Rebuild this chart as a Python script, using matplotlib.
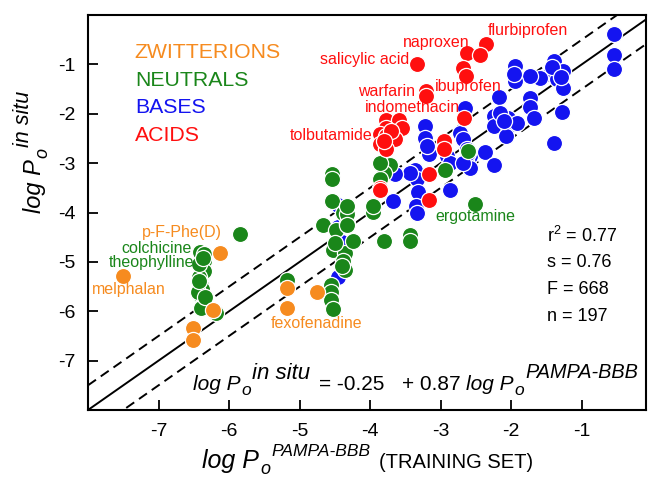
import matplotlib
matplotlib.use("Agg")
import matplotlib.pyplot as plt
import numpy as np

plt.rcParams['font.family'] = ['Liberation Sans', 'DejaVu Sans']
plt.rcParams['mathtext.fontset'] = 'custom'
plt.rcParams['mathtext.rm'] = 'Liberation Sans'
plt.rcParams['mathtext.it'] = 'Liberation Sans:italic'
plt.rcParams['axes.unicode_minus'] = False

W, H = 649, 484

# ---------------- data ----------------
zwit_x = [-6.13, -7.51, -5.18, -4.75, -5.18, -6.23, -6.51, -6.51]
zwit_y = [-4.82, -5.28, -5.53, -5.62, -5.94, -5.98, -6.34, -6.58]

neut_x = [-6.41, -6.36, -6.36, -6.40, -6.35, -6.42, -6.40, -6.41, -6.36, -6.40, -6.18,
          -6.42, -6.38, -6.44, -6.37, -6.34, -6.43,
          -5.84, -5.18,
          -4.54, -4.38, -4.67, -4.48, -4.33, -4.52, -4.36, -4.38, -4.36, -4.55, -4.55,
          -4.55, -4.53, -4.54, -4.54, -4.33, -4.33, -4.50, -4.40,
          -3.96, -3.81, -3.43, -3.43, -4.24, -2.51, -3.96, -4.33, -2.61, -2.94, -3.72,
          -3.81, -3.86, -3.86]
neut_y = [-4.79, -4.85, -4.99, -5.13, -5.19, -5.31, -5.46, -5.67, -5.80, -5.94, -6.04,
          -5.05, -5.55, -5.60, -4.92, -5.72, -5.38,
          -4.43, -5.36,
          -3.77, -4.01, -4.25, -4.35, -4.21, -4.75, -4.82, -4.99, -5.16, -5.47, -5.60,
          -5.77, -5.96, -3.23, -3.33, -4.04, -4.25, -4.62, -5.08,
          -3.98, -4.58, -4.45, -4.58, -4.58, -3.82, -3.87, -3.87, -2.76, -3.13, -3.03,
          -3.20, -3.33, -2.99]

base_x = [-0.55, -0.55, -0.55, -1.40, -1.26, -1.45, -1.35, -1.26, -1.59, -1.74, -1.94,
          -1.94, -2.17, -1.74, -1.74, -1.68, -1.28, -1.40, -2.24, -2.24, -2.04, -2.04,
          -1.92, -2.16, -2.07, -2.65, -3.22, -3.22, -3.17, -2.72, -2.68, -2.63, -2.58,
          -2.64, -2.58, -2.37, -2.24, -2.91, -2.87, -2.87, -3.36, -3.34, -3.32, -3.43,
          -3.65, -3.67, -3.35, -3.34, -4.45, -4.45, -4.40, -4.38, -4.45,
          -1.42, -1.30, -1.96, -2.10, -2.62, -3.20, -2.68]
base_y = [-0.39, -0.80, -1.10, -0.93, -1.14, -1.20, -1.30, -1.47, -1.27, -1.24, -1.03,
          -1.34, -1.66, -1.68, -1.86, -2.08, -1.97, -2.60, -2.05, -2.24, -2.08, -2.25,
          -2.18, -1.98, -2.45, -1.88, -2.24, -2.49, -2.81, -2.39, -2.52, -2.72, -2.86,
          -2.93, -3.10, -2.78, -3.03, -2.86, -3.00, -3.54, -3.13, -3.33, -3.59, -3.20,
          -3.23, -3.77, -3.87, -4.01, -3.85, -4.30, -4.60, -5.05, -5.30,
          -1.05, -1.25, -1.20, -2.15, -2.80, -2.65, -3.00]

acid_x = [-2.36, -2.63, -2.45, -2.68, -2.64, -3.34, -3.21, -3.21, -2.67, -3.77, -3.59,
          -3.55, -3.77, -3.86, -3.77, -3.65, -3.86, -3.77, -2.96, -2.96, -3.17, -3.86,
          -3.86, -3.17, -3.70, -3.80]
acid_y = [-0.58, -0.76, -0.82, -1.07, -1.24, -1.00, -1.54, -1.64, -2.08, -2.12, -2.13,
          -2.28, -2.28, -2.42, -2.45, -2.52, -2.62, -2.72, -2.55, -2.72, -3.23, -3.50,
          -3.55, -3.74, -2.35, -2.55]

# reference lines (identity and +/- band)
line_slope = 1.0
line_intercept = 0.0
band = 0.5

labels_text = ['flurbiprofen', 'naproxen', 'salicylic acid', 'warfarin', 'ibuprofen',
               'indomethacin', 'tolbutamide', 'p-F-Phe(D)', 'colchicine', 'theophylline',
               'melphalan', 'fexofenadine', 'ergotamine']
labels_x = [-2.34, -3.54, -4.71, -4.17, -3.08, -4.07, -5.14, -7.23, -7.53, -7.70,
            -7.94, -5.41, -3.08]
labels_y = [-0.31, -0.55, -0.90, -1.54, -1.45, -1.88, -2.44, -4.41, -4.72, -5.01,
            -5.56, -6.25, -4.08]
labels_cls = ['A', 'A', 'A', 'A', 'A', 'A', 'A', 'Z', 'N', 'N', 'Z', 'Z', 'N']

stats_text = ['r$^2$ = 0.77', 's = 0.76', 'F = 668', 'n = 197']
stats_y = [-4.48, -5.02, -5.56, -6.11]

xticks = [-7, -6, -5, -4, -3, -2, -1]
yticks = [-7, -6, -5, -4, -3, -2, -1]

colors = {'Z': '#F68B1F', 'N': '#1A861A', 'B': '#1414F0', 'A': '#FF0F0F'}

# ---------------- figure ----------------
fig = plt.figure(figsize=(W/100, H/100), dpi=100)
ax = fig.add_axes([88/W, 1-410/H, (646-88)/W, (410-15)/H])
ax.set_xlim(-8, -0.09)
ax.set_ylim(-8, 0)

xx = np.array([-8.0, 0.0])
ax.plot(xx, line_intercept + line_slope*xx, color='black', lw=1.4, zorder=1)
ax.plot(xx, line_intercept + band + line_slope*xx, color='black', lw=1.4,
        ls=(0, (5, 3)), zorder=1)
ax.plot(xx, line_intercept - band + line_slope*xx, color='black', lw=1.4,
        ls=(0, (5, 3)), zorder=1)

kw = dict(s=135, edgecolors='white', linewidths=0.9)
ax.scatter(base_x, base_y, c=colors['B'], zorder=3, **kw)
ax.scatter(neut_x, neut_y, c=colors['N'], zorder=4, **kw)
ax.scatter(acid_x, acid_y, c=colors['A'], zorder=5, **kw)
ax.scatter(zwit_x, zwit_y, c=colors['Z'], zorder=6, **kw)

for t, x, y, c in zip(labels_text, labels_x, labels_y, labels_cls):
    ax.text(x, y, t, color=colors[c], fontsize=11.5, ha='left', va='center', zorder=7)

for t, y in zip(stats_text, stats_y):
    ax.text(-1.50, y, t, fontsize=13, ha='left', va='center', zorder=7)

legend_words = ['ZWITTERIONS', 'NEUTRALS', 'BASES', 'ACIDS']
legend_cls = ['Z', 'N', 'B', 'A']
legend_yf = [0.905, 0.835, 0.766, 0.696]
for w, c, yf in zip(legend_words, legend_cls, legend_yf):
    ax.text(0.084, yf, w, color=colors[c], fontsize=15.3, transform=ax.transAxes,
            ha='left', va='center')

ax.set_xticks(xticks)
ax.set_yticks(yticks)
ax.set_xticklabels([str(v) for v in xticks])
ax.set_yticklabels([str(v) for v in yticks])
ax.tick_params(direction='in', length=7, width=1.3, labelsize=14, pad=9)
for sp in ax.spines.values():
    sp.set_linewidth(1.5)

renderer = fig.canvas.get_renderer()


def rich(x_px, y_px, pieces, rotation=0, zorder=8):
    """pieces: (text, size, style, raise_px, gap_px) drawn along the baseline."""
    texts = []
    pos = 0.0
    for txt, size, style, dy, gap in pieces:
        pos += gap
        if rotation == 0:
            X, Y = x_px + pos, y_px - dy
        else:
            X, Y = x_px - dy, y_px - pos
        t = fig.text(X/W, 1 - Y/H, txt, fontsize=size, style=style,
                     rotation=rotation, rotation_mode='anchor',
                     ha='left', va='baseline', zorder=zorder)
        bb = t.get_window_extent(renderer)
        pos += bb.width if rotation == 0 else bb.height
        texts.append(t)
    return texts, pos


def shift(texts, dx_px, dy_px):
    for t in texts:
        x, y = t.get_position()
        t.set_position((x + dx_px/W, y - dy_px/H))


# equation inside the plot
rich(193, 390, [('log P', 15, 'italic', 0, 0), ('o', 12.5, 'italic', -5, 1),
                ('in situ', 16, 'italic', 11, 1), ('= -0.25', 15, 'normal', 0, 9),
                ('+ 0.87', 15, 'normal', 0, 17), ('log P', 15, 'italic', 0, 6),
                ('o', 12.5, 'italic', -5, 1), ('PAMPA-BBB', 14.3, 'italic', 12, 1)])

# x axis label
xl, xw = rich(0, 468, [('log P', 18, 'italic', 0, 0), ('o', 13, 'italic', -6, 1),
                       ('PAMPA-BBB', 12.5, 'italic', 12, 1),
                       ('(TRAINING SET)', 14.5, 'normal', 0, 9)])
shift(xl, 368 - xw/2, 0)

# y axis label
yl, yw = rich(41, 0, [('log P', 17, 'italic', 0, 0), ('o', 13, 'italic', -6, 1),
                      ('in situ', 15.5, 'italic', 12, 1)], rotation=90)
shift(yl, 0, 152 + yw/2)

fig.savefig('out.png', dpi=100)
